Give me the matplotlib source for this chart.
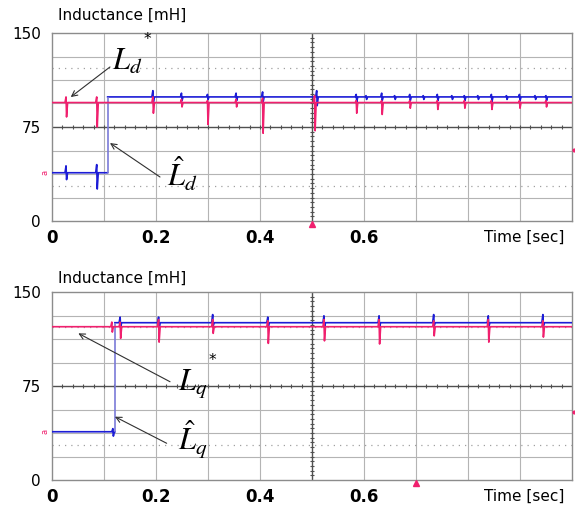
import numpy as np
import matplotlib.pyplot as plt

plt.rcParams['mathtext.fontset'] = 'stix'

# time span of the scope window [sec]
t_end = 1.0

# ---- upper plot (d-axis) ----
d_ref_level = 94.5
d_est_pre, d_est_post = 38.5, 99.0
d_step_t = 0.107
# red reference spikes: time, high, low
d_ref_spikes = [(0.028, 99, 83), (0.087, 99, 75), (0.195, 99, 86), (0.250, 97, 91),
                (0.300, 96, 77), (0.355, 97, 91), (0.406, 98, 70), (0.506, 100, 72),
                (0.586, 96, 86), (0.635, 96, 85), (0.689, 96, 90), (0.742, 96, 89),
                (0.794, 96, 90), (0.846, 96, 89), (0.900, 96, 90), (0.951, 96, 91)]
d_est_spikes_pre = [(0.028, 44, 33), (0.087, 45, 25.5)]
d_est_spikes_post = [(0.195, 104, 95), (0.250, 102, 96), (0.300, 101, 97), (0.355, 102, 96),
                     (0.406, 103, 95), (0.510, 104, 92), (0.586, 101, 95), (0.605, 100, 97),
                     (0.635, 102, 96), (0.660, 100, 97), (0.689, 101, 96), (0.715, 100, 97),
                     (0.742, 101, 96), (0.770, 100, 97), (0.794, 100, 96), (0.820, 100, 97),
                     (0.846, 101, 95), (0.875, 100, 97), (0.900, 101, 96), (0.930, 100, 97),
                     (0.951, 100, 96)]

# ---- lower plot (q-axis) ----
q_ref_level = 122.3
q_est_pre, q_est_post = 38.5, 125.5
q_step_t = 0.121
q_ref_spikes = [(0.116, 126, 118), (0.132, 126, 113), (0.206, 128, 110), (0.310, 128, 117),
                (0.416, 127, 109), (0.524, 128, 111), (0.630, 128, 108.5), (0.735, 127, 115),
                (0.840, 128, 110), (0.945, 127, 114)]
q_est_spikes_pre = [(0.118, 41, 35)]
q_est_spikes_post = [(0.132, 130, 122), (0.206, 130, 120), (0.310, 132, 123), (0.416, 130, 122),
                     (0.524, 131, 122), (0.630, 131, 122), (0.735, 132, 123), (0.840, 131, 122),
                     (0.945, 132, 123)]

y_ticks = [0, 75, 150]
x_ticks = [0, 0.2, 0.4, 0.6]
x_tick_labels = ['0', '0.2', '0.4', '0.6']

blue = '#1c1cd6'
pink = '#f0206e'


def trace(t0, t1, level, spikes):
    xs, ys = [t0], [level]
    for t, hi, lo in spikes:
        if t0 < t < t1:
            xs += [t - 0.003, t - 0.001, t, t + 0.002]
            ys += [level, hi, lo, level]
    xs.append(t1)
    ys.append(level)
    return xs, ys


def scope_axes(ax, marker_t, right_mark):
    ax.set_xlim(0, t_end)
    ax.set_ylim(0, 150)
    for v in np.arange(0.1, 1.0, 0.1):
        if abs(v - 0.5) > 1e-6:
            ax.axvline(v, color='#b4b4b4', lw=0.8, zorder=0)
    for v in np.arange(18.75, 150, 18.75):
        if abs(v - 75) > 1e-6:
            ax.axhline(v, color='#b4b4b4', lw=0.8, zorder=0)
    for v in [28.125, 121.875]:
        ax.axhline(v, color='#a0a0a0', lw=0.9, ls=(0, (1, 4)), zorder=0)
    ax.axvline(0.5, color='#505050', lw=1.0, zorder=1)
    ax.axhline(75, color='#505050', lw=1.0, zorder=1)
    # small tick marks on the center cross
    xt = np.arange(0.02, 1.0, 0.02)
    ax.plot(xt, np.full_like(xt, 75), '|', color='#505050', ms=3, mew=0.8, zorder=1)
    yt = np.arange(3.75, 150, 3.75)
    ax.plot(np.full_like(yt, 0.5), yt, '_', color='#505050', ms=3, mew=0.8, zorder=1)
    for s in ax.spines.values():
        s.set_color('#8c8c8c')
        s.set_linewidth(1.0)
    ax.set_yticks(y_ticks)
    ax.set_yticklabels([str(v) for v in y_ticks], fontsize=11)
    ax.set_xticks(x_ticks)
    ax.set_xticklabels(x_tick_labels, fontsize=12, fontweight='bold')
    ax.tick_params(length=0, pad=8)
    ax.tick_params(axis='x', pad=6)
    ax.text(0.985, -0.085, 'Time [sec]', transform=ax.transAxes, ha='right', va='center',
            fontsize=11)
    ax.plot([marker_t], [-2], '^', color=pink, ms=4, clip_on=False, zorder=5)
    ax.plot([1.004], [right_mark], 'o', color=pink, ms=2, clip_on=False, zorder=5)
    ax.text(-0.014, 38.5, 'a', color=pink, fontsize=6, rotation=90, ha='center',
            va='center', transform=ax.get_yaxis_transform())


fig = plt.figure(figsize=(5.75, 5.08), dpi=100)
ax1 = fig.add_axes([52 / 575, 287 / 508, 520 / 575, 188 / 508])
ax2 = fig.add_axes([52 / 575, 28 / 508, 520 / 575, 188 / 508])

scope_axes(ax1, 0.5, 56.6)
scope_axes(ax2, 0.7, 54.5)

# upper traces
x, y = trace(0, d_step_t, d_est_pre, d_est_spikes_pre)
ax1.plot(x, y, color=blue, lw=1.2, zorder=3)
x, y = trace(d_step_t, t_end, d_est_post, d_est_spikes_post)
ax1.plot(x, y, color=blue, lw=1.2, zorder=3)
ax1.vlines(d_step_t, d_est_pre, d_est_post, color='#7a7ad8', lw=1.2, zorder=3)
x, y = trace(0, t_end, d_ref_level, d_ref_spikes)
ax1.plot(x, y, color=pink, lw=1.2, zorder=4)

# lower traces
x, y = trace(0, q_step_t, q_est_pre, q_est_spikes_pre)
ax2.plot(x, y, color=blue, lw=1.2, zorder=3)
x, y = trace(q_step_t, t_end, q_est_post, q_est_spikes_post)
ax2.plot(x, y, color=blue, lw=1.2, zorder=3)
ax2.vlines(q_step_t, q_est_pre, q_est_post, color='#7a7ad8', lw=1.2, zorder=3)
x, y = trace(0, t_end, q_ref_level, q_ref_spikes)
ax2.plot(x, y, color=pink, lw=1.2, zorder=4)

# labels and arrows
arrow = dict(arrowstyle='->', color='#303030', lw=0.8, shrinkA=0, shrinkB=0)
ax1.annotate('', xy=(0.036, 98.9), xytext=(0.1115, 122.9), arrowprops=arrow)
ax1.text(0.115, 120.5, r'$L_d$', fontsize=22, va='baseline', ha='left')
ax1.text(0.183, 144.5, '*', fontsize=11, ha='center', va='center')
ax1.annotate('', xy=(0.1115, 62.2), xytext=(0.2077, 35.1), arrowprops=arrow)
ax1.text(0.221, 27.1, r'$\hat{L}_d$', fontsize=22, va='baseline', ha='left')

ax2.annotate('', xy=(0.0506, 117), xytext=(0.227, 78.4), arrowprops=arrow)
ax2.text(0.242, 71.8, r'$L_q$', fontsize=22, va='baseline', ha='left')
ax2.text(0.309, 95.5, '*', fontsize=11, ha='center', va='center')
ax2.annotate('', xy=(0.121, 50.5), xytext=(0.2205, 29.3), arrowprops=arrow)
ax2.text(0.242, 23.9, r'$\hat{L}_q$', fontsize=22, va='baseline', ha='left')

fig.text(58 / 575, 1 - 15 / 508, 'Inductance [mH]', fontsize=11, va='center', ha='left')
fig.text(58 / 575, 1 - 278 / 508, 'Inductance [mH]', fontsize=11, va='center', ha='left')

fig.savefig('out.png', dpi=100)
